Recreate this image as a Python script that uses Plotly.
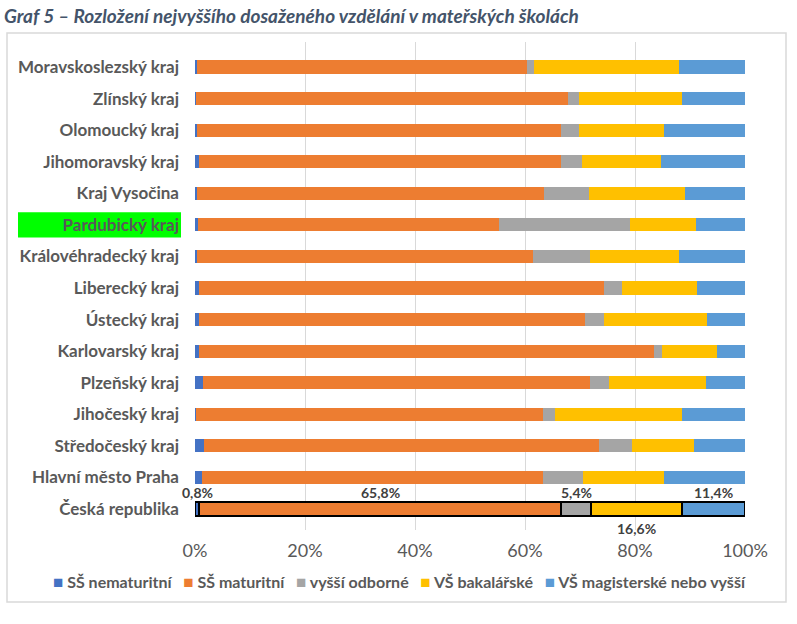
import plotly.graph_objects as go

categories = ["Moravskoslezský kraj", "Zlínský kraj", "Olomoucký kraj", "Jihomoravský kraj",
              "Kraj Vysočina", "Pardubický kraj", "Královéhradecký kraj", "Liberecký kraj",
              "Ústecký kraj", "Karlovarský kraj", "Plzeňský kraj", "Jihočeský kraj",
              "Středočeský kraj", "Hlavní město Praha", "Česká republika"]

ss_nematuritni = [0.4, 0.1, 0.3, 0.7, 0.4, 0.5, 0.3, 0.8, 0.8, 0.8, 1.5, 0.1, 1.7, 1.3, 0.8]
ss_maturitni   = [59.9, 67.7, 66.3, 65.9, 63.1, 54.7, 61.1, 73.6, 70.1, 82.6, 70.4, 63.1, 71.7, 61.9, 65.8]
vyssi_odborne  = [1.3, 2.1, 3.3, 3.7, 8.2, 23.9, 10.5, 3.2, 3.4, 1.5, 3.3, 2.2, 6.0, 7.3, 5.4]
vs_bakalarske  = [26.4, 18.6, 15.4, 14.4, 17.3, 11.9, 16.1, 13.7, 18.7, 10.0, 17.7, 23.1, 11.4, 14.7, 16.6]
vs_magisterske = [12.0, 11.5, 14.7, 15.3, 11.0, 9.0, 12.0, 8.7, 7.0, 5.1, 7.1, 11.5, 9.2, 14.8, 11.4]

series_names = ["SŠ nematuritní", "SŠ maturitní", "vyšší odborné", "VŠ bakalářské",
                "VŠ magisterské nebo vyšší"]
series_values = [ss_nematuritni, ss_maturitni, vyssi_odborne, vs_bakalarske, vs_magisterske]
colors = ["#4472C4", "#ED7D31", "#A5A5A5", "#FFC000", "#5B9BD5"]

cr_label_texts = ["0,8%", "65,8%", "5,4%", "16,6%", "11,4%"]
cr_label_above = [True, True, True, False, True]

FONT = "Lato"
n = len(categories)
cr_idx = categories.index("Česká republika")
highlight = "Pardubický kraj"

fig = go.Figure()
for name, vals, col in zip(series_names, series_values, colors):
    lw = [2 if i == cr_idx else 0 for i in range(n)]
    fig.add_trace(go.Bar(
        y=categories, x=vals, name=name, orientation="h",
        marker=dict(color=col, line=dict(color="black", width=lw)),
        width=0.42, hoverinfo="x+y+name", showlegend=False,
    ))

# data labels for Česká republika
cum = 0
for vals, txt, above in zip(series_values, cr_label_texts, cr_label_above):
    v = vals[cr_idx]
    fig.add_annotation(x=cum + v / 2, y=categories[cr_idx], text="<b>" + txt + "</b>",
                       showarrow=False, yshift=17 if above else -19,
                       font=dict(family=FONT, size=14, color="#404040"))
    cum += v

# legend (drawn as one text line with coloured squares)
legend_parts = []
for name, col in zip(series_names, colors):
    legend_parts.append("<span style='color:%s;font-size:17px'>■</span> %s" % (col, name))
fig.add_annotation(xref="paper", yref="paper", x=(399 - 195) / 550, y=(530 - 581) / 488,
                   xanchor="center", yanchor="middle", showarrow=False,
                   text="<b>" + "   ".join(legend_parts) + "</b>",
                   font=dict(family=FONT, size=16, color="#595959"))

# highlight box behind Pardubický kraj label
hi = categories.index(highlight)
fig.add_shape(type="rect", xref="paper", yref="y",
              x0=(18 - 195) / 550, x1=(181 - 195) / 550,
              y0=hi - 0.4, y1=hi + 0.4,
              fillcolor="#00FF00", line=dict(width=0), layer="below")

# chart border
fig.add_shape(type="rect", xref="paper", yref="paper",
              x0=(7 - 195) / 550, x1=(786 - 195) / 550,
              y0=(530 - 602) / 488, y1=(530 - 33) / 488,
              line=dict(color="#D9D9D9", width=1.5), fillcolor="rgba(0,0,0,0)", layer="below")

fig.update_layout(
    width=797, height=624,
    margin=dict(l=195, r=52, t=42, b=94),
    paper_bgcolor="white", plot_bgcolor="white",
    barmode="stack",
    showlegend=False,
    title=dict(text="<b><i>Graf 5 – Rozložení nejvyššího dosaženého vzdělání v mateřských školách</i></b>",
               xref="container", x=4 / 797, xanchor="left",
               yref="container", y=1 - 16 / 624, yanchor="middle",
               font=dict(family=FONT, size=19, color="#44546A")),
    xaxis=dict(range=[0, 100], tickvals=[0, 20, 40, 60, 80, 100],
               ticktext=["0%", "20%", "40%", "60%", "80%", "100%"],
               showgrid=True, gridcolor="#D9D9D9", gridwidth=1, zeroline=False,
               tickfont=dict(family=FONT, size=18, color="#595959"),
               ticks="", ticklabelstandoff=8, fixedrange=True, automargin=False),
    yaxis=dict(range=[14 + 21 / 31.57, -25 / 31.57], type="category",
               tickfont=dict(family=FONT, size=17, color="#595959", weight="bold"),
               ticks="", ticklabelstandoff=15, showgrid=False, zeroline=False,
               automargin=False),
    font=dict(family=FONT),
)

fig.write_html("out.html", config={"displayModeBar": False},
               post_script="document.body.style.margin='0';")
